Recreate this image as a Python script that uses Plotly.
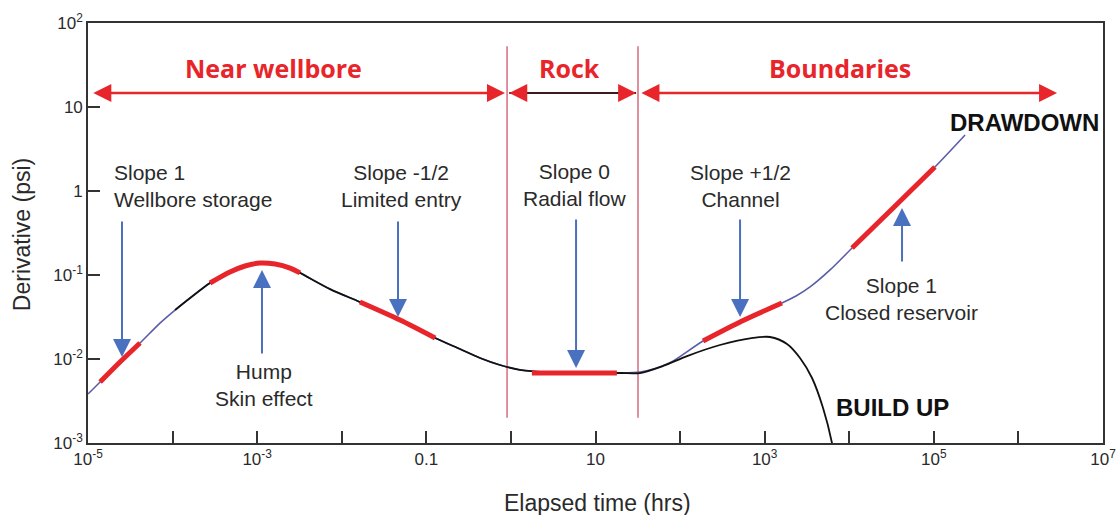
import numpy as np
import plotly.graph_objects as go

# Pressure-derivative response (log-log), elapsed time in hours, derivative in psi
drawdown_t = [1.0e-5, 1.39e-5, 2.39e-5, 4.12e-5, 7.1e-5, 1.07e-4, 1.61e-4, 2.77e-4,
              4.77e-4, 7.18e-4, 1.08e-3, 1.63e-3, 2.45e-3, 3.21e-3, 7.26e-3, 0.0164,
              0.0489, 0.127, 0.25, 0.431, 0.743, 1.28, 2.21, 6.56, 19.5, 33.6, 50.5,
              79, 187, 540, 1600, 2350, 3440, 5930, 10800, 33000, 1.03e5, 2.34e5]
drawdown_d = [0.00383, 0.00532, 0.0092, 0.0155, 0.0268, 0.0383, 0.0532, 0.0803,
              0.1086, 0.128, 0.139, 0.135, 0.121, 0.106, 0.068, 0.0477,
              0.0291, 0.0178, 0.01315, 0.01028, 0.00848, 0.0074, 0.0070, 0.00681, 0.00681,
              0.0070, 0.0077, 0.0092, 0.01637, 0.0283, 0.0464, 0.0562, 0.072, 0.1148, 0.2096,
              0.628, 1.93, 4.64]

buildup_t = [1.07e-4, 1.61e-4, 2.77e-4, 4.77e-4, 7.18e-4, 1.08e-3, 1.63e-3, 2.45e-3,
             3.21e-3, 7.26e-3, 0.0164, 0.0489, 0.127, 0.25, 0.431, 0.743, 1.28, 2.21,
             6.56, 19.5, 33.6, 63, 121, 296, 728, 1157, 1837, 2617, 3630, 4900, 6250, 6600]
buildup_d = [0.0383, 0.0532, 0.0803, 0.1086, 0.128, 0.139, 0.135, 0.121,
             0.106, 0.068, 0.0477, 0.0291, 0.0178, 0.01315, 0.01028, 0.00848, 0.0074, 0.0070,
             0.00681, 0.00681, 0.00681, 0.00826, 0.01084, 0.01468, 0.0178, 0.01828, 0.0151,
             0.01028, 0.00594, 0.00261, 0.001, 0.0007]

# Highlighted flow-regime segments
wbs_t, wbs_d = [1.39e-5, 2.39e-5, 4.12e-5], [0.00532, 0.0092, 0.0155]
hump_t = [2.77e-4, 4.77e-4, 7.18e-4, 1.08e-3, 1.63e-3, 2.45e-3, 3.21e-3]
hump_d = [0.0803, 0.1086, 0.128, 0.139, 0.135, 0.121, 0.106]
limited_t, limited_d = [0.0164, 0.0489, 0.127], [0.0477, 0.0291, 0.0178]
radial_t, radial_d = [1.77, 17.9], [0.00681, 0.00681]
channel_t, channel_d = [187, 540, 1600], [0.01637, 0.0283, 0.0464]
closed_t, closed_d = [10800, 33000, 1.03e5], [0.2096, 0.628, 1.93]

# Region boundaries (hrs)
boundary_t = [0.9, 31.8]

x_tickvals = [10.0 ** e for e in range(-5, 8)]
x_ticktext = ["10<sup>-5</sup>", "", "10<sup>-3</sup>", "", "0.1", "", "10", "",
              "10<sup>3</sup>", "", "10<sup>5</sup>", "", "10<sup>7</sup>"]
y_tickvals = [1e-3, 1e-2, 1e-1, 1, 10, 100]
y_ticktext = ["10<sup>-3</sup>", "10<sup>-2</sup>", "10<sup>-1</sup>", "1", "10", "10<sup>2</sup>"]

RED = "#e8252a"
BLUE = "#4a70c0"
TXT = "#2a2a2a"
FONT = "Liberation Sans, Arial, sans-serif"

fig = go.Figure()

for bt in boundary_t:
    fig.add_trace(go.Scatter(x=[bt, bt], y=[53, 0.002], mode="lines",
                             line=dict(color="#c8344e", width=1.1), hoverinfo="skip"))

fig.add_trace(go.Scatter(x=drawdown_t, y=drawdown_d, mode="lines",
                         line=dict(color="#5a5ca8", width=1.6, shape="spline", smoothing=0.8)))
fig.add_trace(go.Scatter(x=buildup_t, y=buildup_d, mode="lines",
                         line=dict(color="#111111", width=1.8, shape="spline", smoothing=0.8)))

for st, sd in [(wbs_t, wbs_d), (hump_t, hump_d), (limited_t, limited_d),
               (radial_t, radial_d), (channel_t, channel_d), (closed_t, closed_d)]:
    fig.add_trace(go.Scatter(x=st, y=sd, mode="lines",
                             line=dict(color=RED, width=5, shape="spline", smoothing=0.8)))

# Dark shaft of the "Rock" arrow
arrow_y = 14.7
fig.add_trace(go.Scatter(x=[10 ** -0.02, 10 ** 1.48], y=[arrow_y, arrow_y], mode="lines",
                         line=dict(color="#3a1c1c", width=2), hoverinfo="skip"))

ann = []
ly = np.log10(arrow_y)


def red_arrow(x0, x1, both=True):
    ann.append(dict(x=x1, y=ly, ax=x0, ay=ly, xref="x", yref="y", axref="x", ayref="y",
                    text="", showarrow=True, arrowhead=2, arrowsize=1.5, arrowwidth=2.4,
                    arrowcolor=RED, arrowside="end+start" if both else "end"))


red_arrow(-4.955, -0.07)
red_arrow(1.30, 1.48, both=False)
red_arrow(0.16, -0.02, both=False)
red_arrow(1.525, 6.457)

for txt, xc in [("Near wellbore", -2.807), ("Rock", 0.687), ("Boundaries", 3.891)]:
    ann.append(dict(x=xc, y=1.464, xref="x", yref="y", text=txt, showarrow=False,
                    font=dict(family="Open Sans, sans-serif", size=25, color=RED, weight="bold")))


def blue_arrow(x, y_tail, y_tip):
    ann.append(dict(x=x, y=y_tip, ax=x, ay=y_tail, xref="x", yref="y", axref="x", ayref="y",
                    text="", showarrow=True, arrowhead=2, arrowsize=1.8, arrowwidth=2,
                    arrowcolor=BLUE))


blue_arrow(-4.598, -0.345, -1.976)
blue_arrow(-2.943, -1.952, -0.94)
blue_arrow(-1.335, -0.345, -1.5)
blue_arrow(0.770, -0.321, -2.107)
blue_arrow(2.709, -0.321, -1.5)
blue_arrow(4.624, -0.857, -0.202)

labels = [
    ("Slope 1<br>Wellbore storage", -4.716, 0.06, "left"),
    ("Hump<br>Skin effect", -2.919, -2.315, "center"),
    ("Slope -1/2<br>Limited entry", -1.288, 0.06, "center"),
    ("Slope 0<br>Radial flow", 0.758, 0.077, "center"),
    ("Slope +1/2<br>Channel", 2.709, 0.06, "center"),
    ("Slope 1<br>Closed reservoir", 4.612, -1.28, "center"),
]
for txt, xc, yc, al in labels:
    ann.append(dict(x=xc, y=yc, xref="x", yref="y", text=txt, showarrow=False,
                    xanchor=al, align=al, font=dict(family=FONT, size=21, color=TXT)))

ann.append(dict(x=6.066, y=0.821, xref="x", yref="y", text="DRAWDOWN", showarrow=False,
                font=dict(family=FONT, size=24, color="#111111", weight="bold")))
ann.append(dict(x=4.506, y=-2.583, xref="x", yref="y", text="BUILD UP", showarrow=False,
                font=dict(family=FONT, size=24, color="#111111", weight="bold")))

ann.append(dict(x=0.5015, y=-0.143, xref="paper", yref="paper", text="Elapsed time (hrs)",
                xanchor="center", yanchor="middle",
                showarrow=False, font=dict(family=FONT, size=23, color=TXT)))
ann.append(dict(x=-0.065, y=0.495, xref="paper", yref="paper", text="Derivative (psi)",
                xanchor="center", yanchor="middle",
                textangle=-90, showarrow=False, font=dict(family=FONT, size=23, color=TXT)))

axis_common = dict(showgrid=False, zeroline=False, showline=True, linecolor="#333333",
                   linewidth=1.6, mirror=True, ticks="inside", tickcolor="#333333",
                   tickwidth=1.5, automargin=False,
                   tickfont=dict(family=FONT, size=17, color=TXT))

fig.update_layout(
    width=1119, height=515, autosize=False,
    margin=dict(l=88, r=16, t=23, b=72),
    paper_bgcolor="white", plot_bgcolor="white",
    showlegend=False,
    annotations=ann,
    xaxis=dict(type="log", range=[-5, 7], tickvals=x_tickvals, ticktext=x_ticktext,
               ticklen=12, **axis_common),
    yaxis=dict(type="log", range=[-3, 2], tickvals=y_tickvals, ticktext=y_ticktext,
               ticklen=12, **axis_common),
)

fig.write_html("out.html")
